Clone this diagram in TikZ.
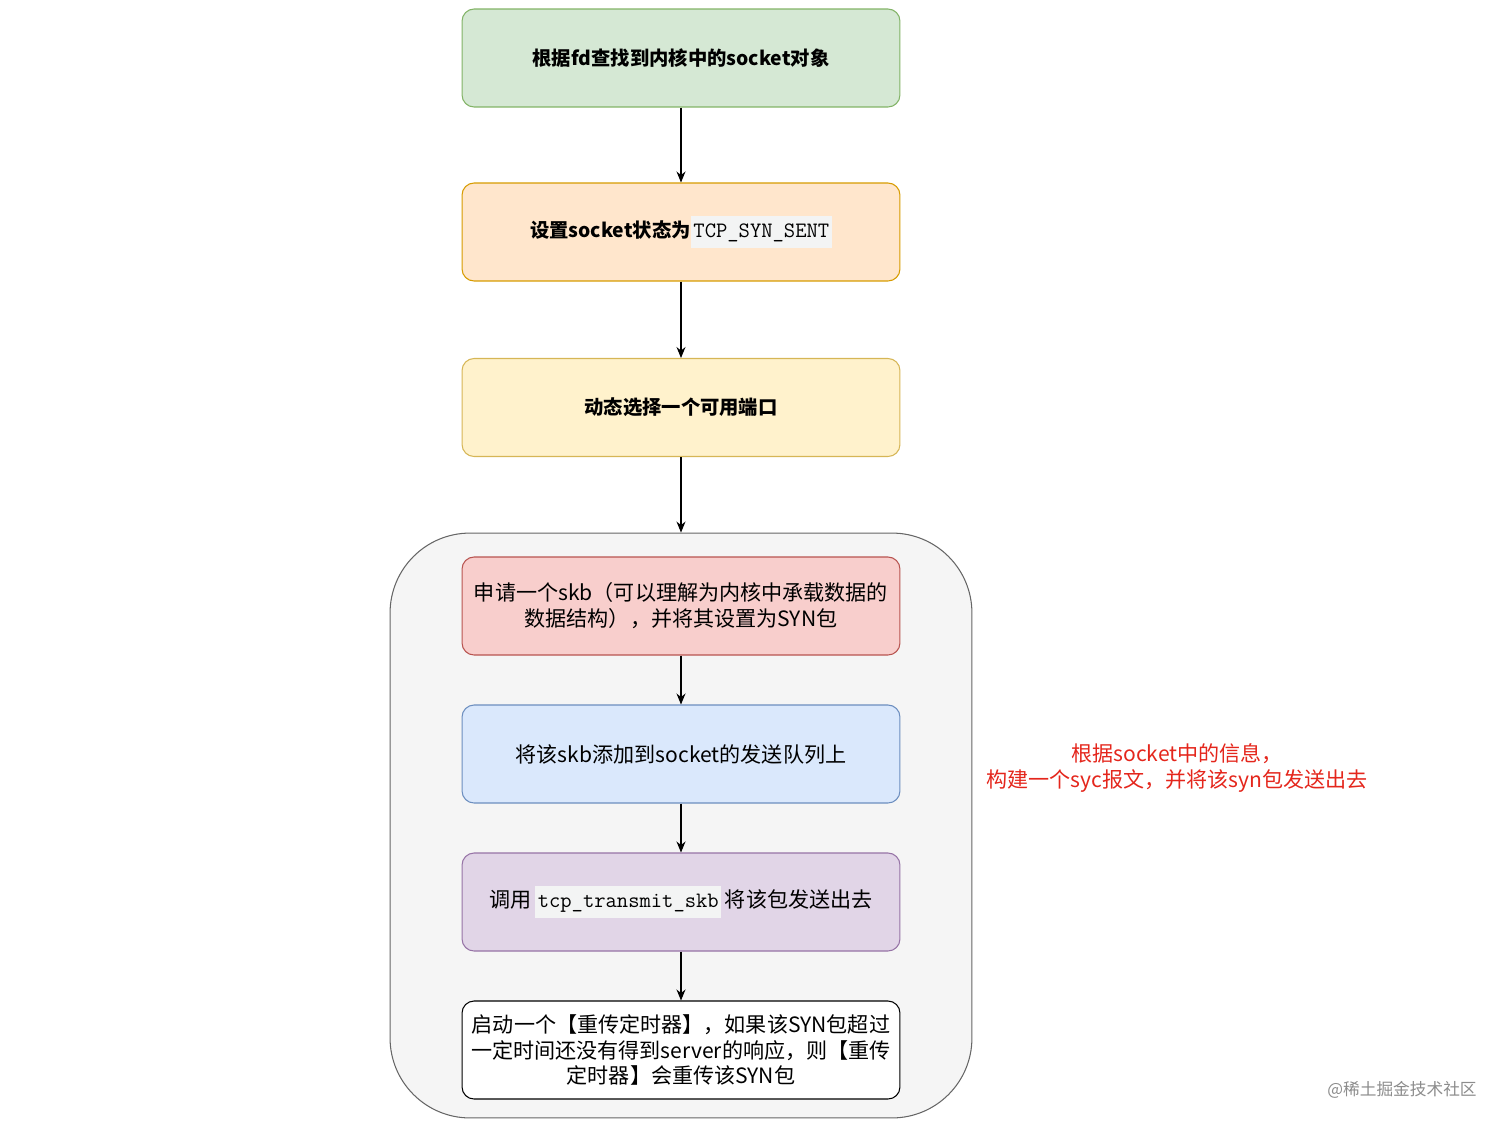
\documentclass[tikz,border=0pt]{standalone}
\usepackage{fontspec}
\setmainfont{Noto Sans CJK SC}
\usetikzlibrary{arrows.meta}
\definecolor{greenfill}{HTML}{D5E8D4}
\definecolor{greenline}{HTML}{82B366}
\definecolor{orangefill}{HTML}{FFE6CC}
\definecolor{orangeline}{HTML}{D79B00}
\definecolor{yellowfill}{HTML}{FFF2CC}
\definecolor{yellowline}{HTML}{D6B656}
\definecolor{redfill}{HTML}{F8CECC}
\definecolor{redline}{HTML}{B85450}
\definecolor{bluefill}{HTML}{DAE8FC}
\definecolor{blueline}{HTML}{6C8EBF}
\definecolor{purplefill}{HTML}{E1D5E7}
\definecolor{purpleline}{HTML}{9673A6}
\definecolor{groupfill}{HTML}{F5F5F5}
\definecolor{groupline}{HTML}{666666}
\definecolor{notecolor}{RGB}{228, 38, 28}
\definecolor{codebg}{HTML}{F3F4F4}
\newcommand{\code}[1]{{\setlength{\fboxsep}{1.5pt}\colorbox{codebg}{\fontsize{12.5}{14.7}\selectfont\ttfamily\mdseries\strut #1}}}

\begin{document}
\begin{tikzpicture}[
    x=0.02cm, y=-0.02cm,
    font=\fontsize{12}{14.7}\selectfont,
    stepbox/.style={rectangle, rounded corners=0.24cm, line width=0.6pt,
      minimum width=8.76cm, minimum height=1.96cm, align=center, inner sep=2pt},
    boldbox/.style={stepbox, font=\fontsize{11}{14.7}\selectfont\bfseries},
    flow/.style={-{Stealth[length=2.2mm, width=1.8mm]}, line width=0.6pt},
  ]

  \def\cx{681} % column centre in px

  % --- canvas ---
  \useasboundingbox (0,0) rectangle (1512,1130);

  % --- group around the send steps ---
  \node[rectangle, draw=groupline, fill=groupfill, line width=0.6pt,
        rounded corners=1.6cm, minimum width=11.64cm, minimum height=11.7cm]
        (group) at (681,825.5) {};

  % --- steps ---
  \node[boldbox, draw=greenline, fill=greenfill]
        (lookup) at (\cx,58) {根据fd查找到内核中的socket对象};
  \node[boldbox, draw=orangeline, fill=orangefill]
        (state) at (\cx,232) {设置socket状态为\code{TCP\_SYN\_SENT}};
  \node[boldbox, draw=yellowline, fill=yellowfill]
        (port) at (\cx,407.5) {动态选择一个可用端口};

  \node[stepbox, draw=redline, fill=redfill]
        (alloc) at (\cx,606) {申请一个skb（可以理解为内核中承载数据的\\数据结构），并将其设置为SYN包};
  \node[stepbox, draw=blueline, fill=bluefill]
        (queue) at (\cx,754) {将该skb添加到socket的发送队列上};
  \node[stepbox, draw=purpleline, fill=purplefill]
        (xmit) at (\cx,902) {调用\,\code{tcp\_transmit\_skb}\,将该包发送出去};
  \node[stepbox, draw=black, fill=white]
        (timer) at (\cx,1050) {启动一个【重传定时器】，如果该SYN包超过\\一定时间还没有得到server的响应，则【重传\\定时器】会重传该SYN包};

  % --- connectors ---
  \draw[flow] (lookup) -- (state);
  \draw[flow] (state) -- (port);
  \draw[flow] (port) -- (group.north);
  \draw[flow] (alloc) -- (queue);
  \draw[flow] (queue) -- (xmit);
  \draw[flow] (xmit) -- (timer);

  % --- note ---
  \node[text=notecolor, align=center] (note) at (1177,768)
    {根据socket中的信息，\\构建一个syc报文，并将该syn包发送出去};

  % watermark
  \node[text=black!45, font=\fontsize{9.5}{11}\selectfont] (mark) at (1402,1090) {@稀土掘金技术社区};

\end{tikzpicture}
\end{document}
